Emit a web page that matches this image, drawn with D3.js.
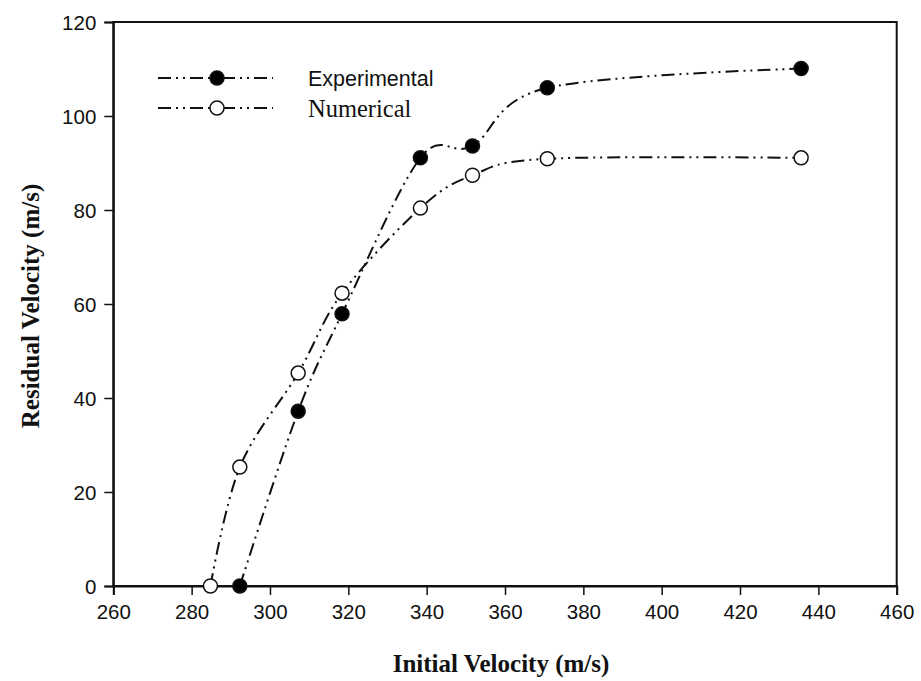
<!DOCTYPE html>
<html><head><meta charset="utf-8">
<script src="https://cdn.jsdelivr.net/npm/d3@7"></script>
<style>body{margin:0;background:#fff}svg{display:block}</style>
</head><body>
<script>
const expX = [292.3, 307.2, 318.4, 338.4, 351.7, 370.8, 435.6];
const expY = [0, 37.2, 57.9, 91.1, 93.6, 106.0, 110.1];
const numX = [284.8, 292.3, 307.2, 318.4, 338.4, 351.7, 370.8, 435.6];
const numY = [0, 25.3, 45.3, 62.3, 80.4, 87.4, 90.9, 91.1];
const xTicks = [260, 280, 300, 320, 340, 360, 380, 400, 420, 440, 460];
const yTicks = [0, 20, 40, 60, 80, 100, 120];
const seriesNames = ["Experimental", "Numerical"];

const W = 921, H = 681;
const svg = d3.select("body").append("svg").attr("width", W).attr("height", H);
const x = d3.scaleLinear().domain([260, 460]).range([113.3, 896.7]);
const y = d3.scaleLinear().domain([0, 120]).range([586, 22]);

// frame
svg.append("rect").attr("x", x(260)).attr("y", y(120))
  .attr("width", x(460) - x(260)).attr("height", y(0) - y(120))
  .attr("fill", "#fff").attr("stroke", "#111").attr("stroke-width", 2);

const xAxis = svg.append("g").attr("transform", `translate(0,${y(0)})`)
  .call(d3.axisBottom(x).tickValues(xTicks).tickSize(9).tickPadding(9).tickFormat(d3.format("d")));
const yAxis = svg.append("g").attr("transform", `translate(${x(260)},0)`)
  .call(d3.axisLeft(y).tickValues(yTicks).tickSize(9).tickPadding(8).tickFormat(d3.format("d")));
[xAxis, yAxis].forEach(a => {
  a.select(".domain").attr("stroke", "#111").attr("stroke-width", 2);
  a.selectAll(".tick line").attr("stroke", "#111").attr("stroke-width", 1.5);
  a.selectAll(".tick text").attr("fill", "#111")
    .style("font-family", "'Liberation Sans', Arial, sans-serif").style("font-size", "20.5px");
});
yAxis.selectAll(".tick text").attr("dy", "0.35em");

svg.append("text").attr("x", 501).attr("y", 672).attr("text-anchor", "middle")
  .style("font-family", "'Liberation Serif', 'Times New Roman', serif").style("font-weight", "bold")
  .style("font-size", "25px").attr("fill", "#111").text("Initial Velocity (m/s)");
svg.append("text").attr("transform", "translate(39,306) rotate(-90)").attr("text-anchor", "middle")
  .style("font-family", "'Liberation Serif', 'Times New Roman', serif").style("font-weight", "bold")
  .style("font-size", "25px").attr("fill", "#111").text("Residual Velocity (m/s)");

const dash = "13,5,2,5,2,5";
const line = d3.line().x(d => x(d[0])).y(d => y(d[1])).curve(d3.curveCatmullRom.alpha(0));
const exp = expX.map((v, i) => [v, expY[i]]);
const num = numX.map((v, i) => [v, numY[i]]);

[[num, false], [exp, true]].forEach(([data, filled]) => {
  svg.append("path").datum(data).attr("d", line).attr("fill", "none")
    .attr("stroke", "#111").attr("stroke-width", 2).attr("stroke-dasharray", dash);
});
[[num, false], [exp, true]].forEach(([data, filled]) => {
  svg.selectAll(null).data(data).enter().append("circle")
    .attr("cx", d => x(d[0])).attr("cy", d => y(d[1])).attr("r", 7)
    .attr("fill", filled ? "#000" : "#fff").attr("stroke", "#111").attr("stroke-width", 1.5);
});

// legend
const leg = [{name: seriesNames[0], filled: true, ly: 78, font: "'Liberation Sans', Arial, sans-serif", size: "21.5px"},
             {name: seriesNames[1], filled: false, ly: 108, font: "'Liberation Serif', 'Times New Roman', serif", size: "24.5px"}];
leg.forEach(l => {
  svg.append("line").attr("x1", 158).attr("x2", 273).attr("y1", l.ly).attr("y2", l.ly)
    .attr("stroke", "#111").attr("stroke-width", 2).attr("stroke-dasharray", dash);
  svg.append("circle").attr("cx", 217).attr("cy", l.ly).attr("r", 7)
    .attr("fill", l.filled ? "#000" : "#fff").attr("stroke", "#111").attr("stroke-width", 1.5);
  svg.append("text").attr("x", 308).attr("y", l.ly).attr("dy", "0.35em")
    .style("font-family", l.font).style("font-size", l.size).attr("fill", "#111").text(l.name);
});
</script>
</body></html>
